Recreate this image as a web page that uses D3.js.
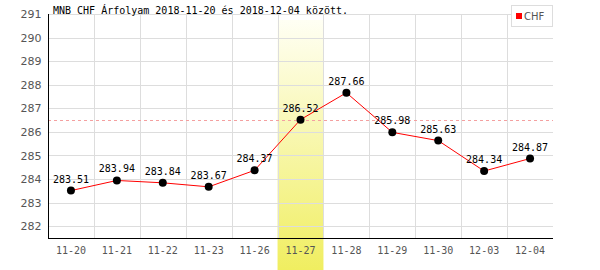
<!DOCTYPE html>
<meta charset="utf-8">
<script src="https://d3js.org/d3.v7.min.js"></script>
<style>
    body { margin: 0; background: #fff; }
    svg text { font-family: "DejaVu Sans Mono", monospace; }
</style>
<div id="chart"></div>
<script>
    // data
    var dates = ["11-20", "11-21", "11-22", "11-23", "11-26", "11-27", "11-28", "11-29", "11-30", "12-03", "12-04"];
    var rates = [283.51, 283.94, 283.84, 283.67, 284.37, 286.52, 287.66, 285.98, 285.63, 284.34, 284.87];
    var yTicks = [282, 283, 284, 285, 286, 287, 288, 289, 290, 291];
    var highlightDate = "11-27";
    var refValue = 286.52;
    var title = "MNB CHF Árfolyam 2018-11-20 és 2018-12-04 között.";
    var seriesName = "CHF";

    // plot area (note: "top" is reserved on window, so use other names)
    var W = 600, H = 270;
    var plotLeft = 48, plotRight = 553, plotTop = 14, plotBottom = 238;

    var svg = d3.select("#chart").append("svg")
        .attr("width", W).attr("height", H);

    var x = d3.scaleBand().domain(dates).range([plotLeft, plotRight]);
    var y = d3.scaleLinear().domain([281.5, 291]).range([plotBottom, plotTop]);

    // gradient for highlighted day
    var grad = svg.append("defs").append("linearGradient")
        .attr("id", "hl").attr("x1", 0).attr("y1", 0).attr("x2", 0).attr("y2", 1);
    grad.append("stop").attr("offset", "0%").attr("stop-color", "#fffff4");
    grad.append("stop").attr("offset", "100%").attr("stop-color", "#f0ee60");

    svg.append("rect")
        .attr("x", x(highlightDate))
        .attr("y", 20)
        .attr("width", x.bandwidth())
        .attr("height", H - 20)
        .attr("fill", "url(#hl)");

    // grid
    svg.append("g").selectAll("line").data(yTicks).enter().append("line")
        .attr("x1", plotLeft).attr("x2", plotRight)
        .attr("y1", function (d) { return Math.round(y(d)) + 0.5; })
        .attr("y2", function (d) { return Math.round(y(d)) + 0.5; })
        .attr("stroke", "#dddddd");

    svg.append("g").selectAll("line").data(dates.slice(1)).enter().append("line")
        .attr("x1", function (d) { return Math.round(x(d)) + 0.5; })
        .attr("x2", function (d) { return Math.round(x(d)) + 0.5; })
        .attr("y1", y(291)).attr("y2", plotBottom)
        .attr("stroke", "#dddddd");

    // reference line
    svg.append("line")
        .attr("x1", plotLeft).attr("x2", plotRight)
        .attr("y1", Math.round(y(refValue)) + 0.5).attr("y2", Math.round(y(refValue)) + 0.5)
        .attr("stroke", "#f4a0a0")
        .attr("stroke-dasharray", "3,3");

    // axes
    var yAxis = svg.append("g")
        .attr("transform", "translate(" + (plotLeft + 0.5) + ",0)")
        .call(d3.axisLeft(y).tickValues(yTicks).tickSize(0).tickPadding(7).tickFormat(d3.format("d")));
    yAxis.select(".domain").attr("stroke", "#000").attr("d", "M0," + y(291) + "V" + plotBottom);
    yAxis.selectAll("text").attr("fill", "#555").style("font-size", "11px")
        .style("font-family", "'DejaVu Sans', sans-serif");

    var xAxis = svg.append("g")
        .attr("transform", "translate(0," + (plotBottom + 0.5) + ")")
        .call(d3.axisBottom(x).tickSize(0).tickPadding(8));
    xAxis.select(".domain").attr("stroke", "#000").attr("d", "M" + plotLeft + ",0H" + plotRight);
    xAxis.selectAll("text").attr("fill", "#555").style("font-size", "10px");

    // line
    var line = d3.line()
        .x(function (d, i) { return x(dates[i]) + x.bandwidth() / 2; })
        .y(function (d) { return y(d); });

    svg.append("path")
        .datum(rates)
        .attr("d", line)
        .attr("fill", "none")
        .attr("stroke", "#ff0000")
        .attr("stroke-width", 1);

    svg.append("g").selectAll("circle").data(rates).enter().append("circle")
        .attr("cx", function (d, i) { return x(dates[i]) + x.bandwidth() / 2; })
        .attr("cy", function (d) { return y(d); })
        .attr("r", 4)
        .attr("fill", "#000");

    svg.append("g").selectAll("text").data(rates).enter().append("text")
        .attr("x", function (d, i) { return x(dates[i]) + x.bandwidth() / 2; })
        .attr("y", function (d) { return y(d) - 8; })
        .attr("text-anchor", "middle")
        .style("font-size", "10px")
        .attr("fill", "#000")
        .text(function (d) { return d.toFixed(2); });

    // title
    svg.append("text")
        .attr("x", 53).attr("y", 14)
        .style("font-size", "10px")
        .attr("fill", "#000")
        .text(title);

    // legend
    svg.append("rect")
        .attr("x", 511.5).attr("y", 5.5).attr("width", 41).attr("height", 21)
        .attr("fill", "#fff").attr("stroke", "#dddddd");
    svg.append("rect")
        .attr("x", 516).attr("y", 13).attr("width", 6).attr("height", 6)
        .attr("fill", "#ff0000");
    svg.append("text")
        .attr("x", 524).attr("y", 20)
        .style("font-size", "10px")
        .style("font-family", "'DejaVu Sans', sans-serif")
        .attr("fill", "#555")
        .text(seriesName);
</script>
